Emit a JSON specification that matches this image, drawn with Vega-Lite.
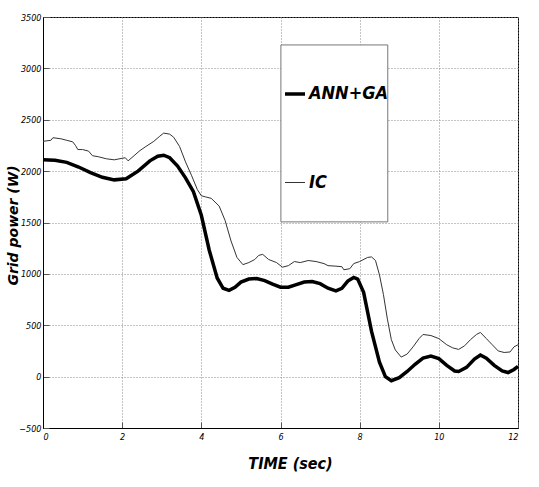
{
  "$schema": "https://vega.github.io/schema/vega-lite/v6.json",
  "autosize": "none",
  "width": 475,
  "height": 411,
  "padding": {"left": 43, "top": 17, "right": 21, "bottom": 59},
  "background": "white",
  "config": {
    "view": {"stroke": "#000000", "strokeWidth": 1},
    "font": "'DejaVu Sans Condensed', 'Liberation Sans Narrow', 'Liberation Sans', sans-serif"
  },
  "layer": [
    {
      "data": {"values": [{"box": "legend"}]},
      "mark": {"type": "rect", "fill": "white", "stroke": "#777777", "strokeWidth": 1},
      "encoding": {
        "x": {"datum": 6.01, "type": "quantitative"},
        "x2": {"datum": 8.71},
        "y": {"datum": 3228, "type": "quantitative"},
        "y2": {"datum": 1506}
      }
    },
    {
      "data": {
        "values": [
          {"t": 0, "p": 2110, "s": "ANN+GA"},
          {"t": 0.3, "p": 2105, "s": "ANN+GA"},
          {"t": 0.6, "p": 2085, "s": "ANN+GA"},
          {"t": 0.9, "p": 2040, "s": "ANN+GA"},
          {"t": 1.2, "p": 1985, "s": "ANN+GA"},
          {"t": 1.5, "p": 1940, "s": "ANN+GA"},
          {"t": 1.8, "p": 1915, "s": "ANN+GA"},
          {"t": 2.1, "p": 1925, "s": "ANN+GA"},
          {"t": 2.4, "p": 2000, "s": "ANN+GA"},
          {"t": 2.7, "p": 2100, "s": "ANN+GA"},
          {"t": 2.9, "p": 2145, "s": "ANN+GA"},
          {"t": 3.05, "p": 2155, "s": "ANN+GA"},
          {"t": 3.2, "p": 2130, "s": "ANN+GA"},
          {"t": 3.4, "p": 2050, "s": "ANN+GA"},
          {"t": 3.6, "p": 1935, "s": "ANN+GA"},
          {"t": 3.8, "p": 1800, "s": "ANN+GA"},
          {"t": 4.0, "p": 1570, "s": "ANN+GA"},
          {"t": 4.2, "p": 1230, "s": "ANN+GA"},
          {"t": 4.4, "p": 960, "s": "ANN+GA"},
          {"t": 4.55, "p": 860, "s": "ANN+GA"},
          {"t": 4.7, "p": 840, "s": "ANN+GA"},
          {"t": 4.85, "p": 870, "s": "ANN+GA"},
          {"t": 5.0, "p": 920, "s": "ANN+GA"},
          {"t": 5.2, "p": 950, "s": "ANN+GA"},
          {"t": 5.4, "p": 955, "s": "ANN+GA"},
          {"t": 5.6, "p": 935, "s": "ANN+GA"},
          {"t": 5.8, "p": 900, "s": "ANN+GA"},
          {"t": 6.0, "p": 870, "s": "ANN+GA"},
          {"t": 6.2, "p": 870, "s": "ANN+GA"},
          {"t": 6.4, "p": 895, "s": "ANN+GA"},
          {"t": 6.6, "p": 920, "s": "ANN+GA"},
          {"t": 6.8, "p": 925, "s": "ANN+GA"},
          {"t": 7.0, "p": 905, "s": "ANN+GA"},
          {"t": 7.2, "p": 860, "s": "ANN+GA"},
          {"t": 7.4, "p": 835, "s": "ANN+GA"},
          {"t": 7.55, "p": 860, "s": "ANN+GA"},
          {"t": 7.7, "p": 930, "s": "ANN+GA"},
          {"t": 7.85, "p": 965, "s": "ANN+GA"},
          {"t": 7.95, "p": 950, "s": "ANN+GA"},
          {"t": 8.1, "p": 820, "s": "ANN+GA"},
          {"t": 8.3, "p": 440, "s": "ANN+GA"},
          {"t": 8.5, "p": 140, "s": "ANN+GA"},
          {"t": 8.65, "p": 0, "s": "ANN+GA"},
          {"t": 8.8, "p": -40, "s": "ANN+GA"},
          {"t": 9.0, "p": -10, "s": "ANN+GA"},
          {"t": 9.2, "p": 50, "s": "ANN+GA"},
          {"t": 9.4, "p": 120, "s": "ANN+GA"},
          {"t": 9.6, "p": 180, "s": "ANN+GA"},
          {"t": 9.8, "p": 200, "s": "ANN+GA"},
          {"t": 10.0, "p": 175, "s": "ANN+GA"},
          {"t": 10.2, "p": 110, "s": "ANN+GA"},
          {"t": 10.4, "p": 55, "s": "ANN+GA"},
          {"t": 10.5, "p": 50, "s": "ANN+GA"},
          {"t": 10.7, "p": 90, "s": "ANN+GA"},
          {"t": 10.9, "p": 170, "s": "ANN+GA"},
          {"t": 11.05, "p": 210, "s": "ANN+GA"},
          {"t": 11.2, "p": 180, "s": "ANN+GA"},
          {"t": 11.4, "p": 110, "s": "ANN+GA"},
          {"t": 11.6, "p": 55, "s": "ANN+GA"},
          {"t": 11.75, "p": 40, "s": "ANN+GA"},
          {"t": 11.9, "p": 70, "s": "ANN+GA"},
          {"t": 12.0, "p": 100, "s": "ANN+GA"},
          {"t": 0, "p": 2290, "s": "IC"},
          {"t": 0.2, "p": 2300, "s": "IC"},
          {"t": 0.25, "p": 2325, "s": "IC"},
          {"t": 0.45, "p": 2315, "s": "IC"},
          {"t": 0.6, "p": 2300, "s": "IC"},
          {"t": 0.75, "p": 2285, "s": "IC"},
          {"t": 0.82, "p": 2250, "s": "IC"},
          {"t": 0.88, "p": 2210, "s": "IC"},
          {"t": 1.0, "p": 2210, "s": "IC"},
          {"t": 1.15, "p": 2195, "s": "IC"},
          {"t": 1.25, "p": 2150, "s": "IC"},
          {"t": 1.4, "p": 2140, "s": "IC"},
          {"t": 1.6, "p": 2120, "s": "IC"},
          {"t": 1.8, "p": 2110, "s": "IC"},
          {"t": 2.0, "p": 2125, "s": "IC"},
          {"t": 2.08, "p": 2130, "s": "IC"},
          {"t": 2.15, "p": 2100, "s": "IC"},
          {"t": 2.3, "p": 2150, "s": "IC"},
          {"t": 2.45, "p": 2200, "s": "IC"},
          {"t": 2.6, "p": 2240, "s": "IC"},
          {"t": 2.8, "p": 2290, "s": "IC"},
          {"t": 2.95, "p": 2340, "s": "IC"},
          {"t": 3.05, "p": 2370, "s": "IC"},
          {"t": 3.2, "p": 2360, "s": "IC"},
          {"t": 3.3, "p": 2330, "s": "IC"},
          {"t": 3.45, "p": 2240, "s": "IC"},
          {"t": 3.6, "p": 2090, "s": "IC"},
          {"t": 3.75, "p": 1960, "s": "IC"},
          {"t": 3.9, "p": 1820, "s": "IC"},
          {"t": 4.0, "p": 1760, "s": "IC"},
          {"t": 4.1, "p": 1750, "s": "IC"},
          {"t": 4.25, "p": 1735, "s": "IC"},
          {"t": 4.45, "p": 1660, "s": "IC"},
          {"t": 4.6, "p": 1520, "s": "IC"},
          {"t": 4.75, "p": 1320, "s": "IC"},
          {"t": 4.9, "p": 1160, "s": "IC"},
          {"t": 5.05, "p": 1090, "s": "IC"},
          {"t": 5.2, "p": 1110, "s": "IC"},
          {"t": 5.35, "p": 1140, "s": "IC"},
          {"t": 5.45, "p": 1180, "s": "IC"},
          {"t": 5.55, "p": 1190, "s": "IC"},
          {"t": 5.7, "p": 1140, "s": "IC"},
          {"t": 5.9, "p": 1110, "s": "IC"},
          {"t": 6.05, "p": 1065, "s": "IC"},
          {"t": 6.2, "p": 1080, "s": "IC"},
          {"t": 6.35, "p": 1120, "s": "IC"},
          {"t": 6.5, "p": 1110, "s": "IC"},
          {"t": 6.7, "p": 1130, "s": "IC"},
          {"t": 6.9, "p": 1120, "s": "IC"},
          {"t": 7.1, "p": 1100, "s": "IC"},
          {"t": 7.2, "p": 1080, "s": "IC"},
          {"t": 7.4, "p": 1075, "s": "IC"},
          {"t": 7.55, "p": 1070, "s": "IC"},
          {"t": 7.6, "p": 1040, "s": "IC"},
          {"t": 7.75, "p": 1050, "s": "IC"},
          {"t": 7.85, "p": 1100, "s": "IC"},
          {"t": 8.0, "p": 1120, "s": "IC"},
          {"t": 8.2, "p": 1160, "s": "IC"},
          {"t": 8.3, "p": 1165, "s": "IC"},
          {"t": 8.4, "p": 1130, "s": "IC"},
          {"t": 8.5, "p": 990, "s": "IC"},
          {"t": 8.6, "p": 800, "s": "IC"},
          {"t": 8.7, "p": 560, "s": "IC"},
          {"t": 8.8, "p": 360, "s": "IC"},
          {"t": 8.9, "p": 260, "s": "IC"},
          {"t": 9.05, "p": 190, "s": "IC"},
          {"t": 9.2, "p": 220, "s": "IC"},
          {"t": 9.35, "p": 290, "s": "IC"},
          {"t": 9.5, "p": 370, "s": "IC"},
          {"t": 9.6, "p": 410, "s": "IC"},
          {"t": 9.8, "p": 400, "s": "IC"},
          {"t": 10.0, "p": 370, "s": "IC"},
          {"t": 10.2, "p": 310, "s": "IC"},
          {"t": 10.35, "p": 280, "s": "IC"},
          {"t": 10.5, "p": 265, "s": "IC"},
          {"t": 10.65, "p": 300, "s": "IC"},
          {"t": 10.8, "p": 360, "s": "IC"},
          {"t": 10.95, "p": 410, "s": "IC"},
          {"t": 11.05, "p": 430, "s": "IC"},
          {"t": 11.2, "p": 370, "s": "IC"},
          {"t": 11.35, "p": 310, "s": "IC"},
          {"t": 11.5, "p": 250, "s": "IC"},
          {"t": 11.65, "p": 235, "s": "IC"},
          {"t": 11.8, "p": 240, "s": "IC"},
          {"t": 11.9, "p": 290, "s": "IC"},
          {"t": 12.0, "p": 310, "s": "IC"}
        ]
      },
      "mark": {"type": "line"},
      "encoding": {
        "x": {
          "field": "t", "type": "quantitative",
          "scale": {"domain": [0, 12], "nice": false, "zero": false},
          "axis": {
            "values": [0, 2, 4, 6, 8, 10, 12], "format": "d",
            "grid": true, "gridDash": [1, 2], "gridColor": "#888888", "gridOpacity": 1,
            "domainColor": "#000000",
            "ticks": true, "tickSize": -6, "tickColor": "#555555",
            "labelFontSize": 9, "labelFontStyle": "italic",
            "labelColor": "#000000", "labelPadding": 10,
            "title": "TIME (sec)",
            "titleFontSize": 16, "titleFontWeight": "bold", "titleFontStyle": "italic",
            "titleColor": "#000000", "titleX": 247, "titleY": 35, "titleBaseline": "middle", "titleAlign": "center"
          }
        },
        "y": {
          "field": "p", "type": "quantitative",
          "scale": {"domain": [-500, 3500], "nice": false, "zero": false},
          "axis": {
            "values": [-500, 0, 500, 1000, 1500, 2000, 2500, 3000, 3500], "format": "d",
            "grid": true, "gridDash": [1, 2], "gridColor": "#888888", "gridOpacity": 1,
            "domainColor": "#000000",
            "ticks": true, "tickSize": -6, "tickColor": "#555555",
            "labelFontSize": 9, "labelFontStyle": "italic",
            "labelColor": "#000000", "labelPadding": 8,
            "title": "Grid power (W)",
            "titleFont": "DejaVu Sans", "titleFontSize": 14, "titleFontWeight": "bold", "titleFontStyle": "italic",
            "titleColor": "#000000", "titleX": -30, "titleY": 208, "titleAngle": -90, "titleBaseline": "middle", "titleAlign": "center"
          }
        },
        "color": {
          "field": "s", "type": "nominal",
          "scale": {"domain": ["ANN+GA", "IC"], "range": ["#000000", "#333333"]},
          "legend": {
            "orient": "none", "legendX": 240, "legendY": 65, "title": null,
            "symbolType": "stroke", "symbolSize": 400, "padding": 0,
            "labelFontSize": 18, "labelFontWeight": "bold", "labelFontStyle": "italic",
            "labelColor": "#000000", "labelOffset": 2, "rowPadding": 69
          }
        },
        "strokeWidth": {
          "field": "s", "type": "nominal",
          "scale": {"domain": ["ANN+GA", "IC"], "range": [3.5, 1]},
          "legend": {
            "orient": "none", "legendX": 240, "legendY": 65, "title": null,
            "symbolType": "stroke", "symbolSize": 400, "padding": 0,
            "labelFontSize": 18, "labelFontWeight": "bold", "labelFontStyle": "italic",
            "labelColor": "#000000", "labelOffset": 2, "rowPadding": 69
          }
        }
      }
    }
  ]
}
